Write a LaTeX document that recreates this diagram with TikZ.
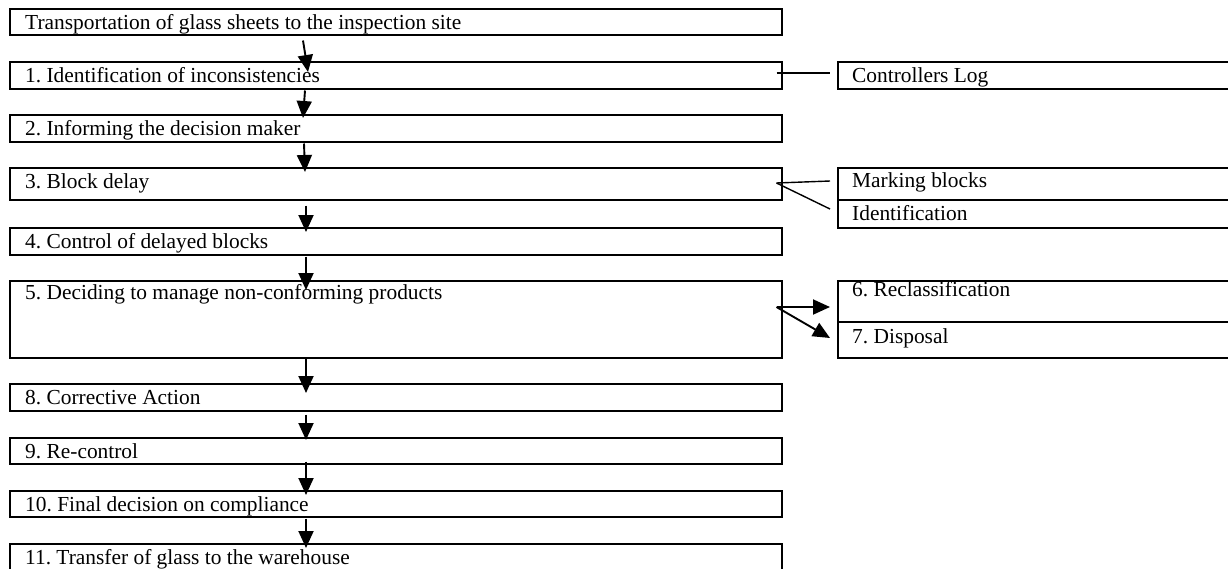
\documentclass[tikz,border=0pt]{standalone}
\usepackage{fontspec}
\setmainfont{Liberation Serif}
\usetikzlibrary{arrows.meta,calc}
\frenchspacing
\begin{document}
\begin{tikzpicture}[x=1pt,y=-1pt,
  box/.style={draw,line width=1.5pt,rectangle,anchor=north west,inner sep=0pt,minimum width=772pt},
  sbox/.style={draw,line width=1.5pt,rectangle,anchor=north west,inner sep=0pt,minimum width=410pt},
  txt/.style={anchor=base west,inner sep=0pt,font=\fontsize{21.4}{25}\selectfont},
  arr/.style={line width=1.9pt,-{Triangle[length=17pt,width=15pt]}},
  ln/.style={line width=1.4pt}]
\useasboundingbox (0,0) rectangle (1228,568);
% main column boxes
\node[box,minimum height=26pt] (b0) at (9,8) {};
\node[box,minimum height=27pt] (b1) at (9,61) {};
\node[box,minimum height=27pt] (b2) at (9,114) {};
\node[box,minimum height=32pt] (b3) at (9,167) {};
\node[box,minimum height=27pt] (b4) at (9,227) {};
\node[box,minimum height=77pt] (b5) at (9,280) {};
\node[box,minimum height=27pt] (b8) at (9,383) {};
\node[box,minimum height=26pt] (b9) at (9,437) {};
\node[box,minimum height=26pt] (b10) at (9,490) {};
\node[box,minimum height=40pt] (b11) at (9,543) {};
% right boxes
\node[sbox,minimum height=27pt] (cl) at (837,61) {};
\node[sbox,minimum height=32pt] (mb) at (837,167) {};
\node[sbox,minimum height=28pt] (id) at (837,199) {};
\node[sbox,minimum height=41pt] (r6) at (837,280) {};
\node[sbox,minimum height=36pt] (r7) at (837,321) {};
% texts
\node[txt] (t0) at ($(b0.north west)+(16,21)$) {Transportation of glass sheets to the inspection site};
\node[txt] (t1) at ($(b1.north west)+(16,21)$) {1. Identification of inconsistencies};
\node[txt] (t2) at ($(b2.north west)+(16,21)$) {2. Informing the decision maker};
\node[txt] (t3) at ($(b3.north west)+(16,21)$) {3. Block delay};
\node[txt] (t4) at ($(b4.north west)+(16,21)$) {4. Control of delayed blocks};
\node[txt] (t5) at ($(b5.north west)+(16,19)$) {5. Deciding to manage non-conforming products};
\node[txt] (t8) at ($(b8.north west)+(16,21)$) {8. Corrective Action};
\node[txt] (t9) at ($(b9.north west)+(16,21)$) {9. Re-control};
\node[txt] (t10) at ($(b10.north west)+(16,21)$) {10. Final decision on compliance};
\node[txt] (t11) at ($(b11.north west)+(16,21)$) {11. Transfer of glass to the warehouse};
\node[txt] (tcl) at ($(cl.north west)+(15,21)$) {Controllers Log};
\node[txt] (tmb) at ($(mb.north west)+(15,20)$) {Marking blocks};
\node[txt] (tid) at ($(id.north west)+(15,21)$) {Identification};
\node[txt] (tr6) at ($(r6.north west)+(15,16)$) {6. Reclassification};
\node[txt] (tr7) at ($(r7.north west)+(15,22)$) {7. Disposal};
% vertical arrows
\draw[arr] ($(b0.south west)+(294,5)$) -- ($(b1.north west)+(299,11)$);
\draw[arr] ($(b1.south west)+(296,1)$) -- ($(b2.north west)+(294,4)$);
\draw[arr] ($(b2.south west)+(295,1)$) -- ($(b3.north west)+(296,5)$);
\draw[arr] ($(b3.south west)+(297,5)$) -- ($(b4.north west)+(297,5)$);
\draw[arr] ($(b4.south west)+(297,1)$) -- ($(b5.north west)+(297,10)$);
\draw[arr] ($(b5.south west)+(297,0)$) -- ($(b8.north west)+(297,10)$);
\draw[arr] ($(b8.south west)+(297,3)$) -- ($(b9.north west)+(297,3)$);
\draw[arr] ($(b9.south west)+(297,-3)$) -- ($(b10.north west)+(297,5)$);
\draw[arr] ($(b10.south west)+(297,1)$) -- ($(b11.north west)+(297,5)$);
% side connectors
\draw[ln] ($(b1.north east)+(-6,12)$) -- ($(cl.north west)+(-7,12)$);
\draw[ln] ($(b3.north east)+(-6,16)$) -- ($(mb.north west)+(-7,14)$);
\draw[ln] ($(b3.north east)+(-6,16)$) -- ($(id.north west)+(-7,10)$);
\draw[arr] ($(b5.north east)+(-6,27)$) -- ($(r6.north west)+(-7,27)$);
\draw[arr] ($(b5.north east)+(-6,27)$) -- ($(r7.north west)+(-7,17)$);
\end{tikzpicture}
\end{document}
